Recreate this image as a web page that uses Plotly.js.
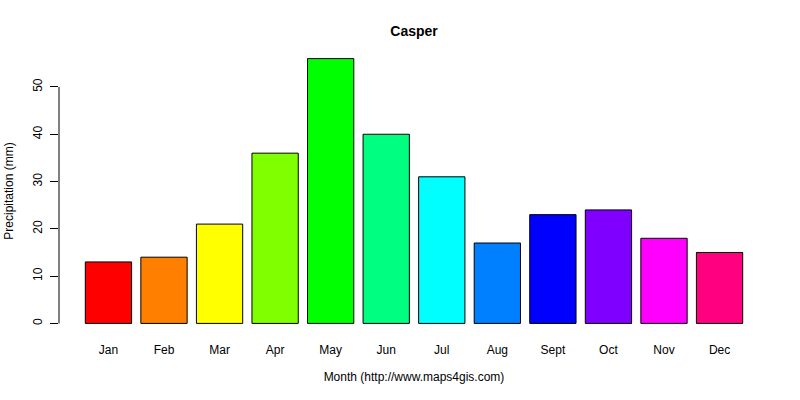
<!DOCTYPE html>
<html>
<head>
<meta charset="utf-8">
<script src="https://cdn.plot.ly/plotly-3.0.1.min.js"></script>
<style>html,body{margin:0;padding:0;background:#fff}#chart{width:800px;height:400px}</style>
</head>
<body>
<div id="chart"></div>
<script>
const months = ["Jan","Feb","Mar","Apr","May","Jun","Jul","Aug","Sept","Oct","Nov","Dec"];
const precipitation = [13, 14, 21, 36, 56, 40, 31, 17, 23, 24, 18, 15];
const barColors = ["#FF0000","#FF8000","#FFFF00","#80FF00","#00FF00","#00FF80","#00FFFF","#0080FF","#0000FF","#8000FF","#FF00FF","#FF0080"];
const yTicks = [0, 10, 20, 30, 40, 50];
const chartTitle = "Casper";
const xTitle = "Month (http://www.maps4gis.com)";
const yTitle = "Precipitation (mm)";

const font = "Liberation Sans, Arial, sans-serif";
const trace = {
  type: "bar",
  x: months,
  y: precipitation,
  marker: {color: barColors, line: {color: "#000", width: 1}},
  hoverinfo: "x+y"
};
const layout = {
  width: 800, height: 400,
  margin: {l: 59, r: 31, t: 48, b: 66},
  paper_bgcolor: "#fff", plot_bgcolor: "#fff",
  bargap: 1/6,
  showlegend: false,
  font: {family: font, size: 12, color: "#000"},
  title: {text: "<b>" + chartTitle + "</b>", font: {family: font, size: 14, color: "#000"},
          x: 0.5, xanchor: "center", y: 1 - 31/400, yanchor: "middle", xref: "paper"},
  xaxis: {
    type: "category",
    range: [-0.89, 11.89],
    showline: false, showgrid: false, zeroline: false,
    ticks: "", ticklabelstandoff: 7,
    tickfont: {family: font, size: 12, color: "#000"},
    title: {text: xTitle, font: {family: font, size: 12, color: "#000"}, standoff: 16}
  },
  yaxis: {
    range: [-2.24, 58.24],
    tickvals: yTicks,
    ticktext: yTicks.map(String),
    tickangle: -90,
    showline: false, showgrid: false, zeroline: false,
    ticks: "outside", ticklen: 8, tickwidth: 1, tickcolor: "#000",
    ticklabelstandoff: 3,
    tickfont: {family: font, size: 12, color: "#000"},
    title: {text: yTitle, font: {family: font, size: 12, color: "#000"}, standoff: 15}
  },
  shapes: [{
    type: "line", xref: "paper", yref: "y",
    x0: 0, x1: 0, y0: yTicks[0], y1: yTicks[yTicks.length - 1],
    line: {color: "#000", width: 1}
  }]
};
Plotly.newPlot("chart", [trace], layout, {displayModeBar: false, staticPlot: true});
</script>
</body>
</html>
